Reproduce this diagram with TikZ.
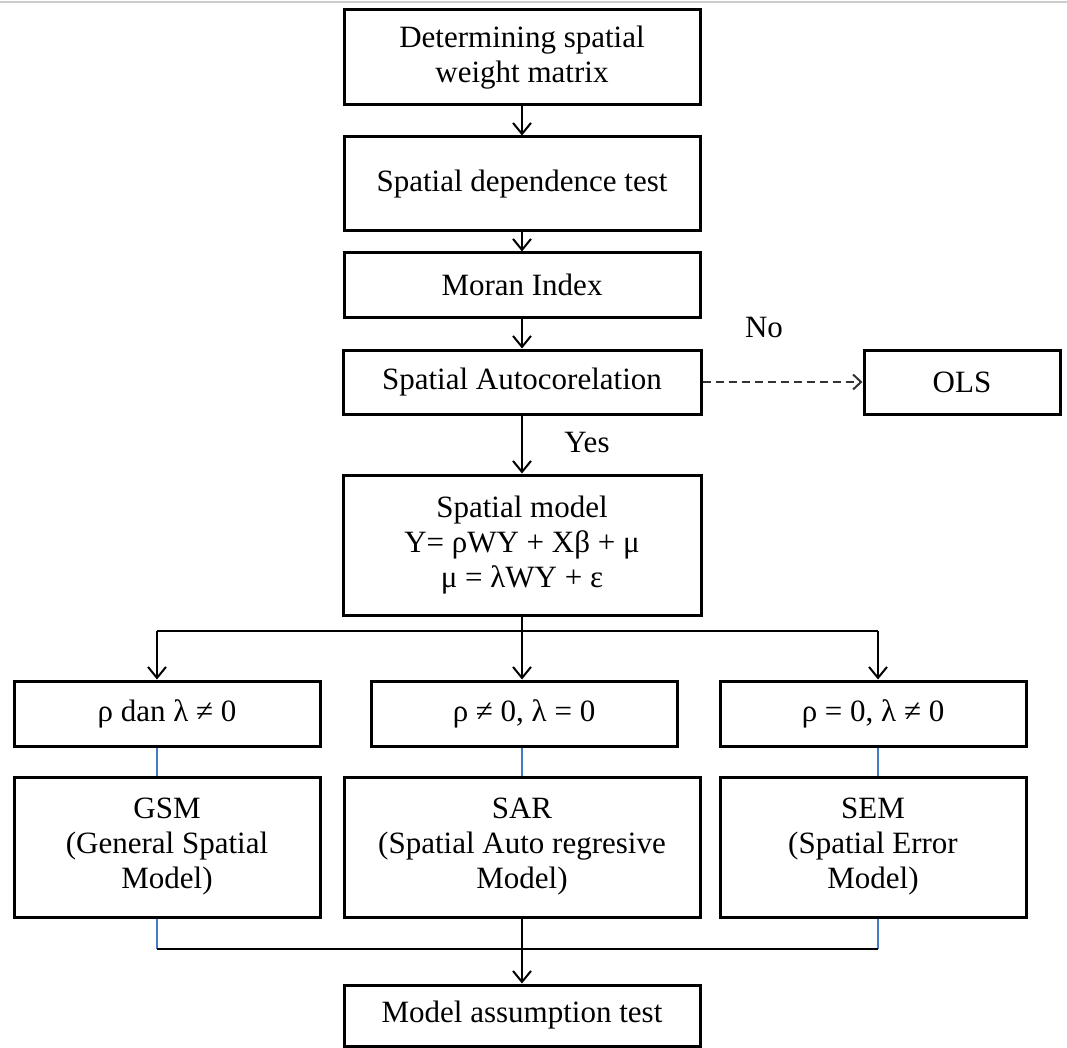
\documentclass[tikz,border=0pt]{standalone}
\usepackage{fontspec}
\setmainfont{Liberation Serif}
\usetikzlibrary{arrows.meta}
\begin{document}
\begin{tikzpicture}[x=1pt,y=-1pt,
  box/.style={draw, line width=3pt, inner sep=0pt, align=center, font=\fontsize{31}{35}\selectfont},
  lbl/.style={font=\fontsize{31}{35}\selectfont, inner sep=0pt},
  conn/.style={line width=2pt, -{Straight Barb[length=11pt,width=18pt,line width=2pt]}},
  dconn/.style={line width=2.2pt, draw=black!80, dash pattern=on 8pt off 5pt, -{Straight Barb[length=8pt,width=15pt,line width=2pt]}},
  plain/.style={line width=2pt},
  blueline/.style={line width=1.3pt, draw={rgb,255:red,70;green,120;blue,200}}
]
\useasboundingbox (0,0) rectangle (1067,1048);
\draw[black!20, line width=1.5pt] (0,2) -- (1067,2);

\node[box, minimum width=356pt, minimum height=95pt] (b1) at (522,57.5) {Determining spatial\\weight matrix};
\node[box, minimum width=356pt, minimum height=94pt] (b2) at (522,184) {Spatial dependence test};
\node[box, minimum width=356pt, minimum height=64pt] (b3) at (522,285) {Moran Index};
\node[box, minimum width=358pt, minimum height=64pt] (b4) at (522,382) {Spatial Autocorelation};
\node[box, minimum width=196pt, minimum height=64pt] (ols) at (962,382) {OLS};
\node[box, minimum width=358pt, minimum height=140pt] (b5) at (522,545) {Spatial model\\Y= ρWY + Xβ + μ\\μ = λWY + ε};

\node[box, minimum width=306pt, minimum height=65pt] (r1) at (167,713.5) {ρ dan λ ≠ 0};
\node[box, minimum width=306pt, minimum height=65pt] (r2) at (524,713.5) {ρ ≠ 0, λ = 0};
\node[box, minimum width=306pt, minimum height=65pt] (r3) at (873,713.5) {ρ = 0, λ ≠ 0};

\node[box, minimum width=306pt, minimum height=140pt] (m1) at (167,847) {GSM\\(General Spatial\\Model)};
\node[box, minimum width=356pt, minimum height=140pt] (m2) at (522,847) {SAR\\(Spatial Auto regresive\\Model)};
\node[box, minimum width=306pt, minimum height=140pt] (m3) at (873,847) {SEM\\(Spatial Error\\Model)};

\node[box, minimum width=356pt, minimum height=61pt] (f) at (522,1015.5) {Model assumption test};

\node[lbl] (no) at (764,328) {No};
\node[lbl] (yes) at (587,442) {Yes};

\draw[conn] (b1) -- (b2);
\draw[conn] (b2) -- (b3);
\draw[conn] (b3) -- (b4);
\draw[conn] (b4) -- (b5);
\draw[dconn] (b4) -- (ols);

\coordinate (br) at (522,631);
\coordinate (bl) at (157,631);
\coordinate (bx) at (878,631);
\draw[plain] (b5.south) -- (br);
\draw[plain] (bl) -- (bx);
\draw[conn] (bl) -- (bl |- r1.north);
\draw[conn] (br) -- (br |- r2.north);
\draw[conn] (bx) -- (bx |- r3.north);

\draw[blueline] (bl |- r1.south) -- (bl |- m1.north);
\draw[blueline] (br |- r2.south) -- (br |- m2.north);
\draw[blueline] (bx |- r3.south) -- (bx |- m3.north);

\coordinate (jl) at (157,949);
\coordinate (jr) at (878,949);
\draw[blueline] (bl |- m1.south) -- (jl);
\draw[blueline] (bx |- m3.south) -- (jr);
\draw[plain] (jl) -- (jr);
\draw[conn] (m2.south) -- (f.north);
\end{tikzpicture}
\end{document}
